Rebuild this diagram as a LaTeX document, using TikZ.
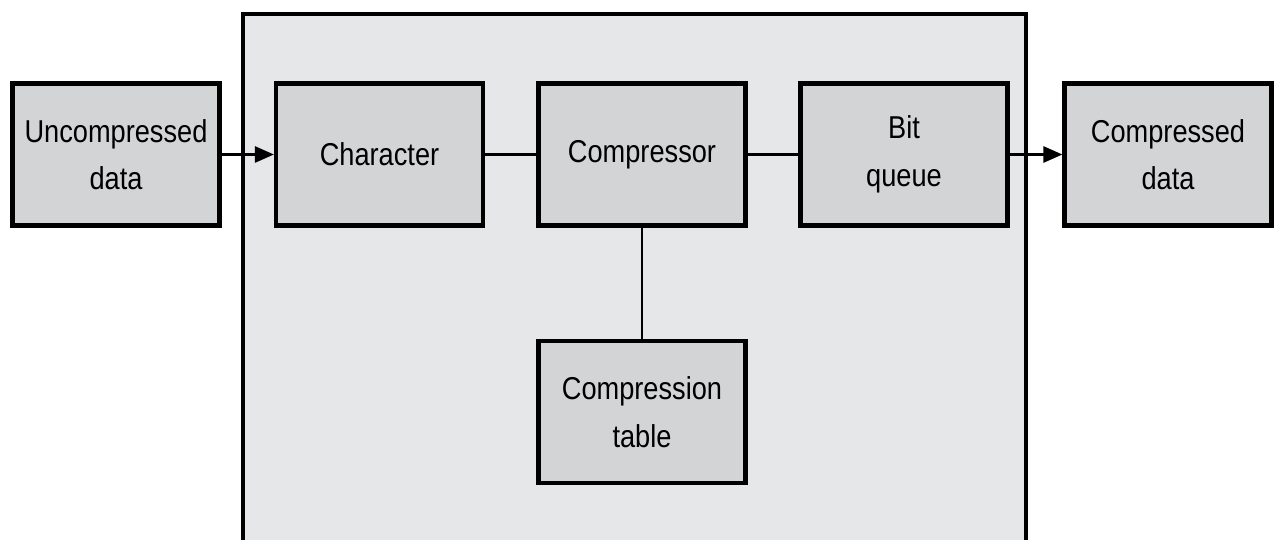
\documentclass[tikz,border=0pt]{standalone}
\usepackage{fontspec}
\setmainfont{Liberation Sans}[FakeStretch=0.86]
\usetikzlibrary{arrows.meta}
\definecolor{panelgray}{RGB}{230,231,233}
\definecolor{blockgray}{RGB}{211,212,214}

\begin{document}
\begin{tikzpicture}[x=0.02cm, y=-0.02cm,
        block/.style={draw, line width=2.4pt, fill=blockgray, minimum width=4.14cm,
            minimum height=2.84cm, inner sep=0pt, align=center,
            font=\fontsize{18}{27}\selectfont},
        link/.style={line width=1.5pt},
        flow/.style={link, -{Triangle[length=0.38cm, width=0.32cm]}}]
        \useasboundingbox (0,0) rectangle (1278,540);
        % surrounding panel, open at the bottom
        \fill[panelgray] (243,540) rectangle (1026,14);
        \draw[line width=2.2pt] (243,542) -- (243,14) -- (1026,14) -- (1026,542);

        \node[block] (uncomp) at (116,154.5) {Uncompressed\\data};
        \node[block] (charac) at (379.5,154.5) {Character};
        \node[block] (compr) at (642,154.5) {Compressor};
        \node[block] (bitq) at (904,154.5) {Bit\\queue};
        \node[block] (compd) at (1168,154.5) {Compressed\\data};
        \node[block] (table) at (642,412) {Compression\\table};

        \draw[flow] (uncomp) -- (charac);
        \draw[link] (charac) -- (compr);
        \draw[link] (compr) -- (bitq);
        \draw[flow] (bitq) -- (compd);
        \draw[link] (compr) -- (table);
    \end{tikzpicture}
\end{document}
